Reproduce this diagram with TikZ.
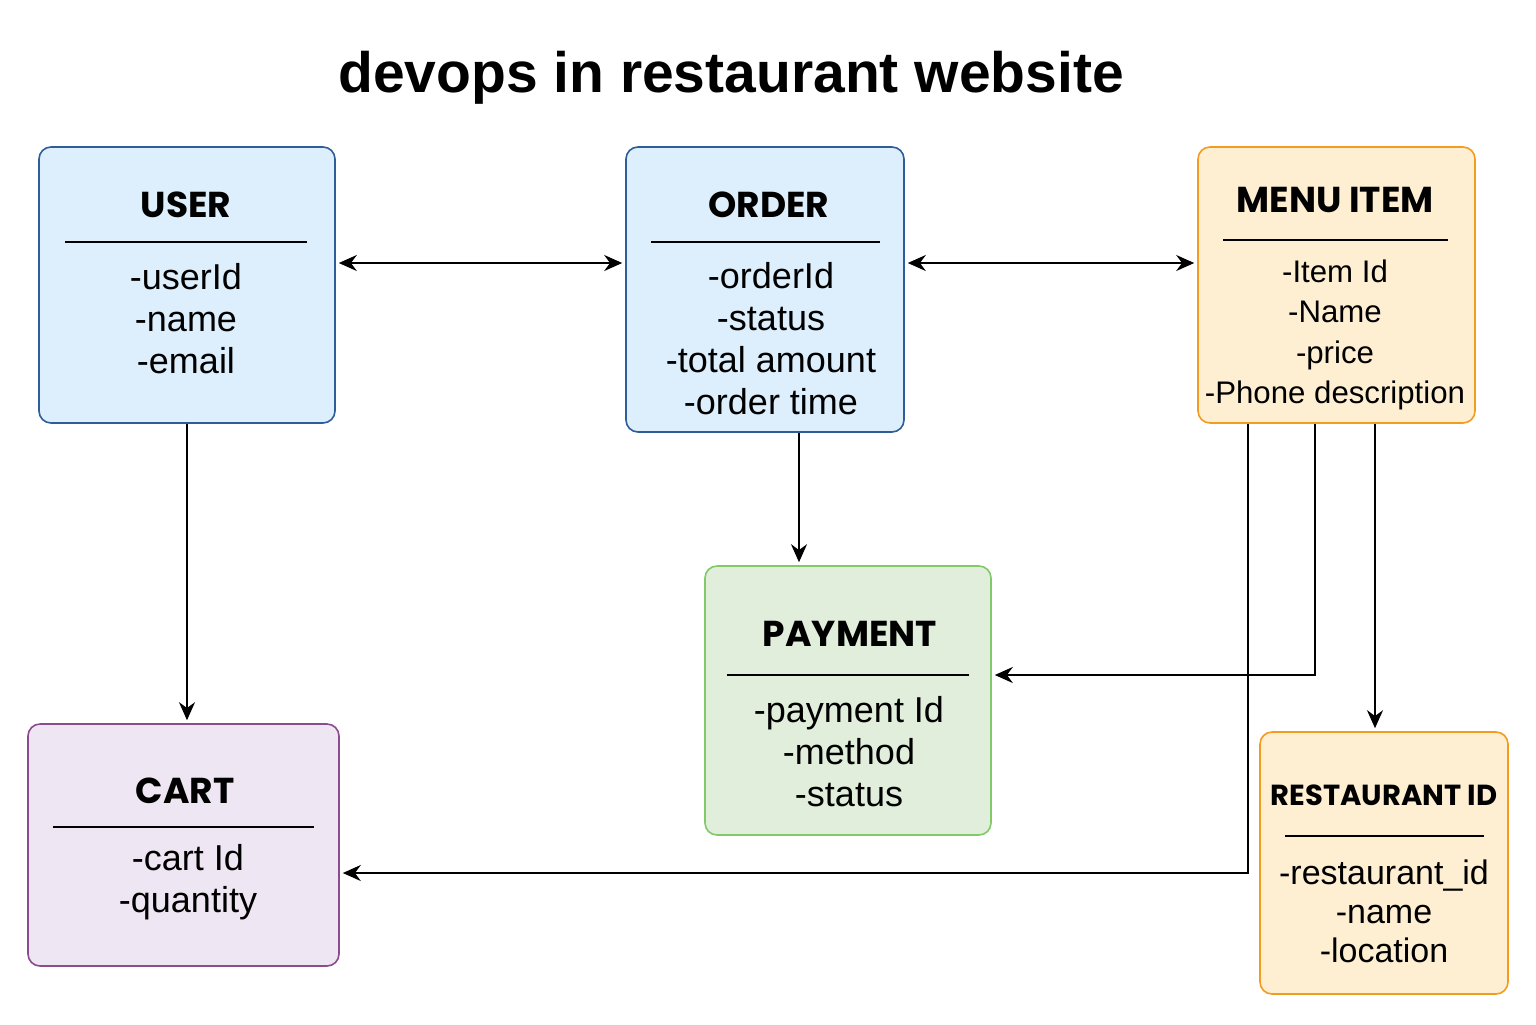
\documentclass[tikz,border=0pt]{standalone}
\usepackage{fontspec}
\setmainfont{Liberation Sans}
\newfontfamily\headfont{Poppins}
\usetikzlibrary{arrows.meta,calc}
\definecolor{ublue}{HTML}{DDEFFC}
\definecolor{ubluel}{HTML}{2F5D99}
\definecolor{pgreen}{HTML}{E1EEDB}
\definecolor{pgreenl}{HTML}{82C96A}
\definecolor{cpurp}{HTML}{EEE6F3}
\definecolor{cpurpl}{HTML}{8B4C8E}
\definecolor{morange}{HTML}{FEEFD2}
\definecolor{morangel}{HTML}{F39C1F}
\tikzset{
  ent/.style={draw, rounded corners=6pt, line width=0.8pt, inner sep=0pt},
  head/.style={font=\headfont\bfseries\fontsize{18}{21}\selectfont, inner sep=0pt},
  items/.style={font=\fontsize{18}{21}\selectfont, align=center, inner sep=0pt},
  rule/.style={line width=0.8pt},
  conn/.style={line width=1pt, -{Stealth[length=9pt,width=8pt]}, shorten >=1.5pt},
  bconn/.style={line width=1pt, {Stealth[length=9pt,width=8pt]}-{Stealth[length=9pt,width=8pt]}, shorten >=1.5pt, shorten <=1.5pt}
}
\begin{document}
\begin{tikzpicture}[x=0.5pt,y=-0.5pt]
\useasboundingbox[fill=white] (0,0) rectangle (1536,1024);
% title
\node[font=\bfseries\fontsize{28.5}{34}\selectfont, inner sep=0pt] (title) at (731,78) {devops in restaurant website};
% boxes
\node[ent, fill=ublue, draw=ubluel, minimum width=148pt, minimum height=138pt] (user) at (187,285) {};
\node[ent, fill=ublue, draw=ubluel, minimum width=139pt, minimum height=142.5pt] (order) at (765,289.5) {};
\node[ent, fill=morange, draw=morangel, minimum width=138.5pt, minimum height=138pt] (menu) at (1336.5,285) {};
\node[ent, fill=pgreen, draw=pgreenl, minimum width=143pt, minimum height=134.5pt] (payment) at (848,700.5) {};
\node[ent, fill=cpurp, draw=cpurpl, minimum width=155.5pt, minimum height=121pt] (cart) at (183.5,845) {};
\node[ent, fill=morange, draw=morangel, minimum width=124pt, minimum height=131pt] (rest) at (1384,863) {};
% USER
\node[head] (userh) at (186,205) {USER};
\draw[rule] (65,242) -- (307,242);
\node[items] (useri) at (186,318.5) {-userId\\-name\\-email};
% ORDER
\node[head] (orderh) at (769,205) {ORDER};
\draw[rule] (651,242) -- (880,242);
\node[items] (orderi) at (771,339) {-orderId\\-status\\-total amount\\-order time};
% MENU ITEM
\node[head] (menuh) at (1335,200) {MENU ITEM};
\draw[rule] (1223,240) -- (1448,240);
\node[items, font=\fontsize{15.6}{20.2}\selectfont] (menui) at (1335,335) {-Item Id\\-Name\\-price\\-Phone description};
% PAYMENT
\node[head] (payh) at (850,634) {PAYMENT};
\draw[rule] (727,675) -- (969,675);
\node[items] (payi) at (849,752) {-payment Id\\-method\\-status};
% CART
\node[head] (carth) at (185,791) {CART};
\draw[rule] (53,827) -- (314,827);
\node[items] (carti) at (188,882) {-cart Id\\-quantity};
% RESTAURANT
\node[head, font=\headfont\bfseries\fontsize{14.5}{17}\selectfont] (resth) at (1384,795) {RESTAURANT ID};
\draw[rule] (1285,836) -- (1484,836);
\node[items, font=\fontsize{17}{19.5}\selectfont] (resti) at (1384,911) {-restaurant\_id\\-name\\-location};
% connector helpers
\coordinate (r1) at (0,263);
\coordinate (kO) at (799,0);
\coordinate (kP) at (1315,675);
\coordinate (kC) at (1248,873);
\coordinate (kR) at (1375,0);
% connectors
\draw[bconn] (user.east |- r1) -- (order.west |- r1);
\draw[bconn] (order.east |- r1) -- (menu.west |- r1);
\draw[conn] (user.south) -- (user.south |- cart.north);
\draw[conn] (order.south -| kO) -- (payment.north -| kO);
\draw[conn] (menu.south -| kP) |- (payment.east |- kP);
\draw[conn] (menu.south -| kR) -- (rest.north -| kR);
\draw[conn] (menu.south -| kC) |- (cart.east |- kC);
\end{tikzpicture}
\end{document}
